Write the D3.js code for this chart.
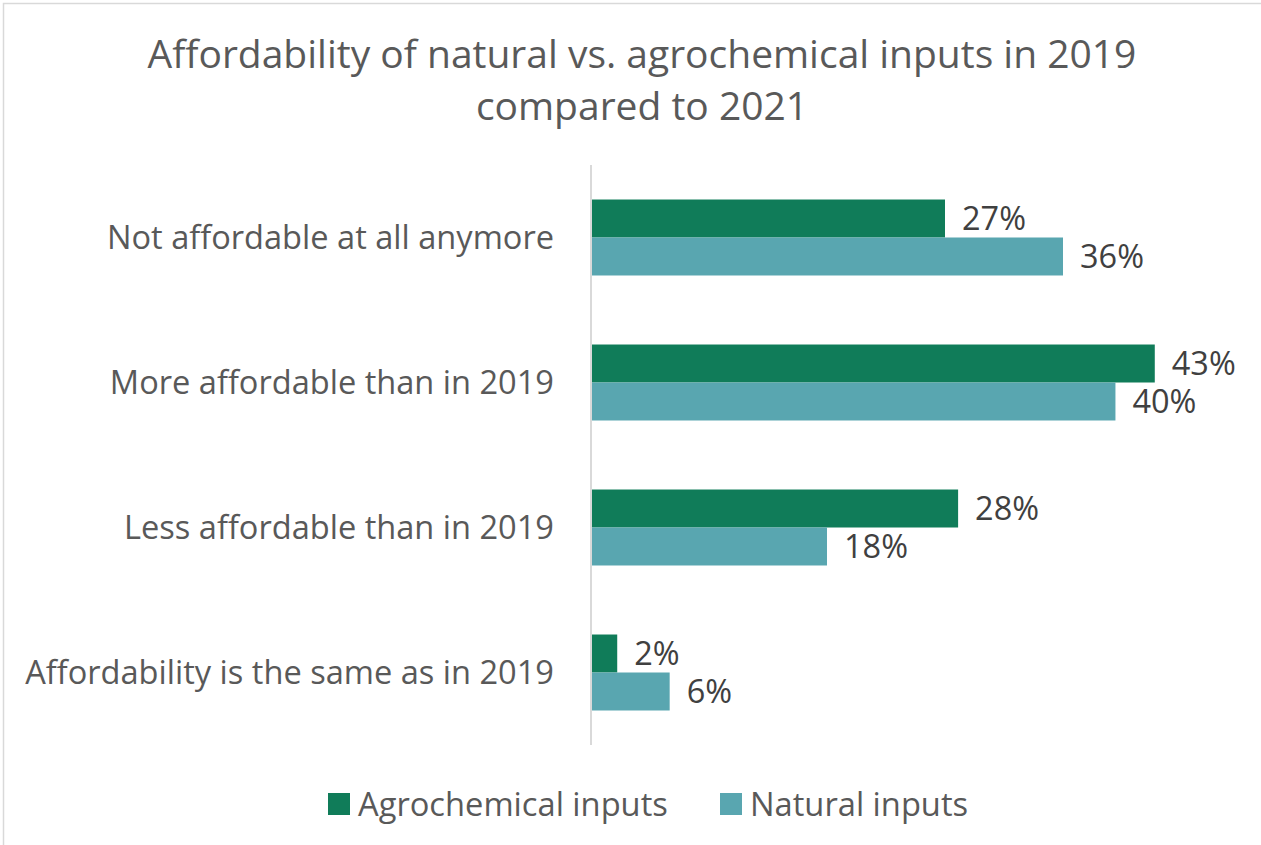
<!DOCTYPE html>
<html lang="en">
<head>
  <meta charset="UTF-8">
  <title>Affordability chart</title>
  <script src="https://d3js.org/d3.v7.min.js"></script>
  <style>
    body { margin: 0; padding: 0; background: #fff; }
    svg { display: block; font-family: "Open Sans", Lato, sans-serif; }
  </style>
</head>
<body>
  <div id="chart"></div>
  <script>
    // data
    const categories = [
      "Not affordable at all anymore",
      "More affordable than in 2019",
      "Less affordable than in 2019",
      "Affordability is the same as in 2019"
    ];
    const seriesNames = ["Agrochemical inputs", "Natural inputs"];
    const agrochemical = [0.27, 0.43, 0.28, 0.02];
    const natural = [0.36, 0.40, 0.18, 0.06];
    const colors = ["#107c59", "#59a6b0"];

    const width = 1261, height = 845;
    const svg = d3.select("#chart").append("svg")
      .attr("width", width).attr("height", height);

    // scale a group of texts so one reference string gets the wanted width
    function fitSize(sel, refNode, target) {
      const base = parseFloat(sel.style("font-size"));
      const w = refNode.getComputedTextLength();
      sel.style("font-size", (base * target / w).toFixed(2) + "px");
    }

    // chart frame (only top & left visible in the crop)
    svg.append("rect")
      .attr("x", 3.5).attr("y", 3.5)
      .attr("width", width + 10).attr("height", height + 10)
      .attr("fill", "none").attr("stroke", "#d9d9d9").attr("stroke-width", 1.5);

    // title
    const title = svg.append("text")
      .attr("text-anchor", "middle")
      .attr("fill", "#595959")
      .style("font-size", "36px");
    const t1 = title.append("tspan").attr("x", 642).attr("y", 68)
      .text("Affordability of natural vs. agrochemical inputs in 2019");
    title.append("tspan").attr("x", 642).attr("y", 120)
      .text("compared to 2021");
    fitSize(title, t1.node(), 989);

    const y = d3.scaleBand().domain(categories)
      .range([165, 745]).paddingInner(0.476).paddingOuter(0.238);
    const ySub = d3.scaleBand().domain(seriesNames).range([0, y.bandwidth()]);
    const x = d3.scaleLinear().domain([0, 0.45]).range([591, 1181]);

    const rows = categories.map((c, i) => ({
      cat: c,
      vals: [agrochemical[i], natural[i]]
    }));

    const g = svg.selectAll("g.cat").data(rows).enter().append("g")
      .attr("class", "cat")
      .attr("transform", d => `translate(0,${y(d.cat)})`);

    g.selectAll("rect").data(d => d.vals.map((v, j) => ({ v, s: seriesNames[j], j })))
      .enter().append("rect")
      .attr("x", x(0))
      .attr("y", d => ySub(d.s))
      .attr("width", d => x(d.v) - x(0))
      .attr("height", ySub.bandwidth())
      .attr("fill", d => colors[d.j]);

    const vals = g.selectAll("text.val").data(d => d.vals.map((v, j) => ({ v, s: seriesNames[j] })))
      .enter().append("text")
      .attr("class", "val")
      .attr("x", d => x(d.v) + 17)
      .attr("y", d => ySub(d.s) + ySub.bandwidth() / 2)
      .attr("dy", "0.36em")
      .attr("fill", "#404040")
      .style("font-size", "29px")
      .text(d => d3.format(".0%")(d.v));
    fitSize(vals, vals.nodes()[2], 64);

    // category labels
    const cats = svg.selectAll("text.catlab").data(categories).enter().append("text")
      .attr("class", "catlab")
      .attr("x", 554)
      .attr("y", d => y(d) + y.bandwidth() / 2)
      .attr("dy", "0.36em")
      .attr("text-anchor", "end")
      .attr("fill", "#595959")
      .style("font-size", "29px")
      .text(d => d);
    fitSize(cats, cats.nodes()[3], 529);

    // vertical axis line
    svg.append("line")
      .attr("x1", x(0)).attr("x2", x(0))
      .attr("y1", 165).attr("y2", 745)
      .attr("stroke", "#d9d9d9").attr("stroke-width", 2);

    // legend
    const legX = [328, 720];
    const leg = svg.selectAll("g.leg").data(seriesNames).enter().append("g")
      .attr("class", "leg")
      .attr("transform", (d, i) => `translate(${legX[i]},793)`);
    leg.append("rect").attr("width", 22).attr("height", 22)
      .attr("fill", (d, i) => colors[i]);
    const legText = leg.append("text").attr("x", 30).attr("y", 11).attr("dy", "0.36em")
      .attr("fill", "#595959").style("font-size", "29px")
      .text(d => d);
    fitSize(legText, legText.nodes()[0], 310);
  </script>
</body>
</html>
